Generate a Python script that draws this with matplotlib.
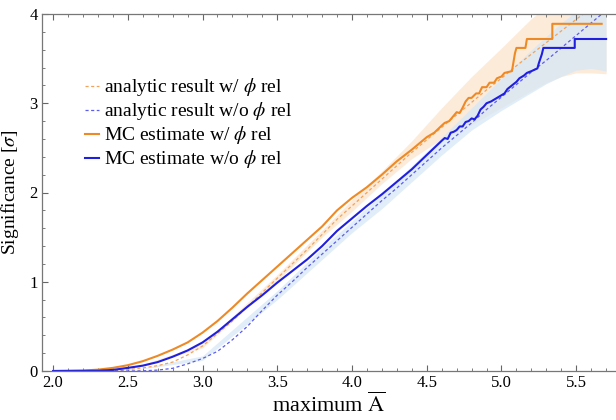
import numpy as np
import matplotlib
matplotlib.use("Agg")
import matplotlib.pyplot as plt
from matplotlib.ticker import MultipleLocator, FormatStrFormatter

plt.rcParams["font.family"] = ["Liberation Serif", "DejaVu Serif"]
plt.rcParams["mathtext.fontset"] = "stix"

# analytic curves (x grid shared)
x_an = [2.0, 2.2, 2.4, 2.5, 2.6, 2.7, 2.8, 2.9, 3.0, 3.1, 3.2, 3.3, 3.4, 3.5, 3.6,
        3.7, 3.8, 3.9, 4.0, 4.1, 4.2, 4.3, 4.4, 4.5, 4.6, 4.7, 4.8, 4.9, 5.0,
        5.1, 5.2, 5.3, 5.4, 5.5, 5.6, 5.7]
an_with = [0, 0, 0.005, 0.015, 0.035, 0.06, 0.10, 0.18, 0.28, 0.42, 0.56, 0.72, 0.88,
           1.04, 1.20, 1.36, 1.53, 1.70, 1.85, 2.00, 2.15, 2.30, 2.45, 2.59, 2.73,
           2.87, 3.01, 3.15, 3.28, 3.42, 3.55, 3.68, 3.81, 3.94, 4.07, 4.20]
an_without = [0, 0, 0, 0, 0.002, 0.01, 0.03, 0.08, 0.14, 0.22, 0.35, 0.50, 0.68,
              0.85, 1.00, 1.16, 1.31, 1.46, 1.61, 1.76, 1.91, 2.05, 2.20, 2.35, 2.50,
              2.64, 2.78, 2.93, 3.07, 3.21, 3.35, 3.48, 3.62, 3.76, 3.90, 4.04]

# MC estimate w/ phi rel
x_mc_w = [2.0, 2.2, 2.3, 2.4, 2.5, 2.6, 2.7, 2.8, 2.9, 3.0, 3.1, 3.2, 3.3, 3.4, 3.5,
          3.6, 3.7, 3.8, 3.9, 4.0, 4.1, 4.2, 4.3, 4.4, 4.5, 4.55, 4.6, 4.62, 4.65,
          4.68, 4.7, 4.72, 4.74, 4.76, 4.78, 4.8, 4.83, 4.85, 4.87, 4.9, 4.92, 4.95,
          4.97, 5.0, 5.02, 5.07, 5.08, 5.09, 5.10, 5.16, 5.17, 5.34, 5.34, 5.67]
mc_w = [0, 0.005, 0.015, 0.035, 0.065, 0.11, 0.17, 0.24, 0.32, 0.43, 0.56, 0.71,
        0.87, 1.02, 1.17, 1.32, 1.47, 1.62, 1.80, 1.94, 2.06, 2.20, 2.35, 2.48,
        2.62, 2.67, 2.75, 2.78, 2.80, 2.86, 2.90, 2.89, 2.95, 3.02, 3.06, 3.06,
        3.11, 3.11, 3.18, 3.18, 3.23, 3.23, 3.28, 3.30, 3.34, 3.36, 3.46, 3.56,
        3.62, 3.62, 3.72, 3.72, 3.89, 3.89]

# MC estimate w/o phi rel
x_mc_wo = [2.0, 2.3, 2.4, 2.5, 2.6, 2.7, 2.8, 2.9, 3.0, 3.1, 3.2, 3.3, 3.4, 3.5, 3.6,
           3.7, 3.8, 3.9, 4.0, 4.1, 4.2, 4.3, 4.4, 4.5, 4.6, 4.62, 4.64, 4.66, 4.68,
           4.70, 4.72, 4.74, 4.76, 4.78, 4.80, 4.82, 4.84, 4.86, 4.88, 4.90, 4.93,
           4.96, 4.99, 5.02, 5.04, 5.07, 5.10, 5.12, 5.15, 5.17, 5.20, 5.24, 5.25,
           5.27, 5.28, 5.49, 5.49, 5.70]
mc_wo = [0, 0.003, 0.012, 0.035, 0.06, 0.10, 0.16, 0.23, 0.32, 0.44, 0.58, 0.72,
         0.85, 0.99, 1.12, 1.25, 1.40, 1.57, 1.71, 1.85, 1.98, 2.12, 2.26, 2.42,
         2.58, 2.61, 2.60, 2.67, 2.68, 2.70, 2.74, 2.74, 2.79, 2.80, 2.83, 2.82,
         2.86, 2.93, 2.96, 3.00, 3.02, 3.05, 3.08, 3.11, 3.16, 3.20, 3.24, 3.28,
         3.31, 3.34, 3.36, 3.39, 3.45, 3.55, 3.62, 3.62, 3.72, 3.72]

# uncertainty bands
x_band = [2.5, 3.0, 3.5, 3.8, 4.0, 4.2, 4.4, 4.6, 4.8, 5.0, 5.2, 5.3, 5.4, 5.5, 5.6, 5.7]
band_w_hi = [0.02, 0.30, 1.08, 1.58, 1.92, 2.24, 2.58, 2.95, 3.30, 3.62, 3.95, 4.08, 4.2, 4.3, 4.4, 4.5]
band_w_lo = [0.01, 0.26, 1.01, 1.50, 1.79, 2.10, 2.38, 2.60, 2.76, 2.95, 3.14, 3.23, 3.30, 3.34, 3.34, 3.33]
band_wo_hi = [0.0, 0.17, 0.90, 1.38, 1.68, 1.98, 2.30, 2.62, 2.95, 3.28, 3.60, 3.75, 3.90, 4.03, 4.15, 4.25]
band_wo_lo = [0.0, 0.12, 0.80, 1.25, 1.55, 1.82, 2.12, 2.42, 2.70, 2.92, 3.12, 3.22, 3.30, 3.37, 3.39, 3.36]

orange = "#ee8a25"
blue = "#1f1fe0"

fig = plt.figure(figsize=(6.16, 4.20), dpi=100)
ax = fig.add_axes([42 / 616, 49 / 420, 1 - 42 / 616, 357 / 420])

ax.fill_between(x_band, band_w_lo, band_w_hi, color="#fde3cb", alpha=0.7, lw=0)
ax.fill_between(x_band, band_wo_lo, band_wo_hi, color="#d7e8f7", alpha=0.75, lw=0)

ax.plot(x_an, an_with, color="#f2a35a", lw=0.9, ls=(0, (2.5, 2)),
        label=r"analytic result w/ $\phi$ rel")
ax.plot(x_an, an_without, color="#5c5cf0", lw=0.9, ls=(0, (2.5, 2)),
        label=r"analytic result w/o $\phi$ rel")
ax.plot(x_mc_w, mc_w, color=orange, lw=1.5, label=r"MC estimate w/ $\phi$ rel")
ax.plot(x_mc_wo, mc_wo, color=blue, lw=1.5, label=r"MC estimate w/o $\phi$ rel")

ax.set_xlim(1.926, 5.766)
ax.set_ylim(0, 4)
ax.xaxis.set_major_locator(MultipleLocator(0.5))
ax.xaxis.set_minor_locator(MultipleLocator(0.1))
ax.yaxis.set_major_locator(MultipleLocator(1))
ax.yaxis.set_minor_locator(MultipleLocator(0.2))
ax.xaxis.set_major_formatter(FormatStrFormatter("%.1f"))
ax.tick_params(which="both", direction="in", top=True, right=False,
               color="#666666", labelsize=12, pad=3)
ax.tick_params(which="major", length=4)
ax.tick_params(which="minor", length=2.5)
for s in ["left", "bottom", "top"]:
    ax.spines[s].set_color("#777777")
    ax.spines[s].set_linewidth(0.9)
ax.spines["right"].set_visible(False)

ax.set_xlabel(r"maximum $\overline{\mathrm{A}}$", fontsize=16, labelpad=1)
ax.set_ylabel(r"Significance [$\sigma$]", fontsize=14, labelpad=6)

ax.legend(loc="upper left", bbox_to_anchor=(0.075, 0.825), frameon=False,
          fontsize=14, handlelength=0.7, handletextpad=0.25, labelspacing=0.1,
          borderaxespad=0, borderpad=0)

fig.savefig("out.png", dpi=100)
